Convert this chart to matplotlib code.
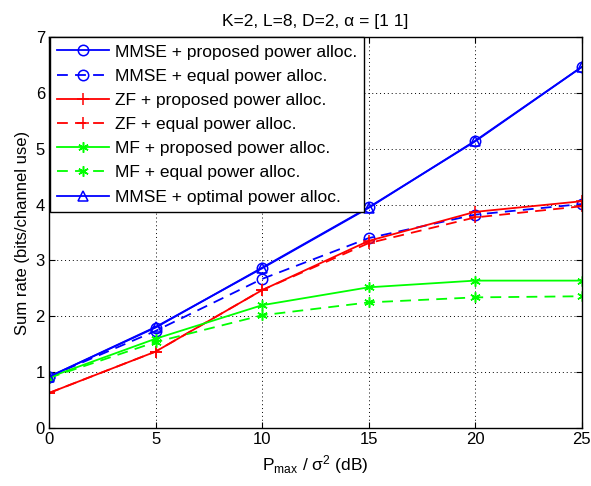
import matplotlib
matplotlib.use("Agg")
import matplotlib.pyplot as plt

plt.rcParams["font.family"] = ["Liberation Sans", "DejaVu Sans"]
plt.rcParams["mathtext.fontset"] = "custom"
plt.rcParams["mathtext.rm"] = "Liberation Sans"
plt.rcParams["mathtext.it"] = "Liberation Sans:italic"

snr_db = [0, 5, 10, 15, 20, 25]
mmse_prop = [0.92, 1.80, 2.87, 3.95, 5.13, 6.46]
mmse_equal = [0.92, 1.74, 2.67, 3.40, 3.82, 4.01]
zf_prop = [0.63, 1.37, 2.47, 3.35, 3.87, 4.06]
zf_equal = [0.63, 1.37, 2.47, 3.31, 3.77, 3.97]
mf_prop = [0.91, 1.60, 2.20, 2.52, 2.64, 2.64]
mf_equal = [0.90, 1.54, 2.02, 2.25, 2.34, 2.36]
mmse_opt = [0.92, 1.81, 2.86, 3.94, 5.14, 6.46]

# matlab-style asterisk
star = (6, 2, 0)

series = [
    ("MMSE + proposed power alloc.", mmse_prop, "b", "-", "o"),
    ("MMSE + equal power alloc.", mmse_equal, "b", "--", "o"),
    ("ZF + proposed power alloc.", zf_prop, "r", "-", "+"),
    ("ZF + equal power alloc.", zf_equal, "r", "--", "+"),
    ("MF + proposed power alloc.", mf_prop, "#00ff00", "-", star),
    ("MF + equal power alloc.", mf_equal, "#00ff00", "--", star),
    ("MMSE + optimal power alloc.", mmse_opt, "b", "-", "^"),
]

fig = plt.figure(figsize=(5.91, 4.86), dpi=100)
ax = fig.add_axes([0.083, 0.119, 0.901, 0.805])

for label, vals, color, ls, mk in series:
    ms = 9 if mk == "+" else 7.5
    ax.plot(snr_db, vals, color=color, linestyle=ls, marker=mk, markersize=ms,
            markerfacecolor="none", markeredgecolor=color, markeredgewidth=1.1,
            linewidth=1.3, label=label, dashes=(6, 4) if ls == "--" else (None, None))

ax.set_xlim(0, 25)
ax.set_ylim(0, 7)
ax.set_xticks(snr_db)
ax.set_yticks(range(0, 8))
ax.tick_params(direction="in", top=True, right=True, labelsize=12, length=4, pad=3)
ax.grid(True, linestyle=(0, (1, 3)), color="black", linewidth=0.7)
for sp in ax.spines.values():
    sp.set_linewidth(1.0)

ax.set_title("K=2, L=8, D=2, α = [1 1]", fontsize=12.5, pad=8)
ax.set_xlabel(r"P$_{\mathrm{max}}$ / σ$^{\mathrm{2}}$ (dB)", fontsize=12.5)
ax.set_ylabel("Sum rate (bits/channel use)", fontsize=12)

leg = ax.legend(loc="upper left", fontsize=12.5, frameon=True, fancybox=False,
                borderaxespad=0.03, handlelength=3.0, labelspacing=0.52,
                borderpad=0.4, handletextpad=0.35)
leg.get_frame().set_edgecolor("black")
leg.get_frame().set_linewidth(1.0)
leg.get_frame().set_alpha(1.0)

fig.savefig("out.png", dpi=100)
